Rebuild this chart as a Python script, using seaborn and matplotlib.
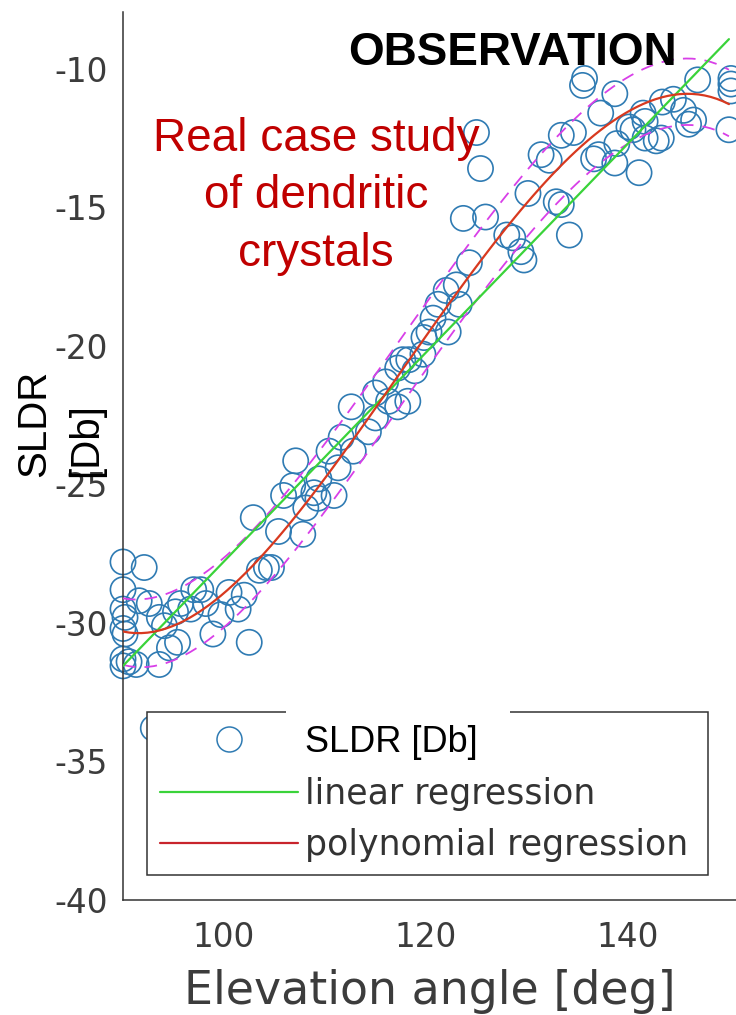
import matplotlib
matplotlib.use("Agg")
import matplotlib.pyplot as plt
import seaborn as sns
from matplotlib.lines import Line2D
from matplotlib.patches import Rectangle

# ---------------- data ----------------
elevation = [90.0, 92.1, 90.0, 90.0, 90.2, 90.0, 90.2, 90.0, 90.0, 90.6,
             91.6, 92.6, 93.6, 94.1, 94.6, 95.4, 91.3, 93.6, 95.2, 95.7,
             96.7, 97.0, 97.7, 98.2, 98.9, 99.7, 100.5, 101.4, 102.0, 102.5,
             103.5, 104.2, 104.7, 102.9, 105.4, 105.9, 106.8, 107.1, 107.8, 108.1,
             109.3, 108.9, 109.4, 110.9, 111.3, 110.4, 111.6, 112.8, 112.6, 114.3,
             115.0, 115.0, 116.0, 117.2, 118.2, 116.3, 117.2, 118.3, 119.7, 119.8,
             118.9, 117.7, 120.3, 122.2, 120.7, 121.2, 123.3, 122.0, 123.0, 124.3,
             123.7, 125.9, 128.0, 128.6, 129.4, 129.7, 125.4, 125.0, 131.4, 132.2,
             130.1, 132.9, 133.4, 134.2, 133.4, 134.6, 136.6, 135.5, 135.7, 138.7,
             137.3, 137.1, 138.9, 138.7, 141.1, 140.1, 140.5, 141.7, 142.8, 141.5,
             141.7, 143.4, 144.5, 145.5, 146.5, 146.0, 143.3, 146.9, 150.2, 150.2,
             150.2, 150.0, 93.0]
sldr = [-27.8, -28.0, -28.8, -29.5, -29.8, -30.2, -30.4, -31.3, -31.55, -31.4,
        -29.2, -29.3, -29.8, -30.1, -30.9, -30.7, -31.5, -31.5, -29.6, -29.3,
        -29.5, -28.8, -28.8, -29.3, -30.4, -29.7, -28.9, -29.5, -29.0, -30.7,
        -28.1, -28.0, -28.0, -26.2, -26.7, -25.4, -25.05, -24.15, -26.8, -25.85,
        -25.5, -25.3, -24.8, -25.4, -24.4, -23.8, -23.3, -23.8, -22.2, -23.1,
        -22.6, -21.7, -21.3, -22.2, -22.0, -22.0, -20.8, -20.5, -20.3, -19.7,
        -20.9, -20.5, -19.5, -19.5, -19.0, -18.5, -18.5, -18.0, -17.8, -17.0,
        -15.4, -15.35, -16.0, -16.1, -16.6, -16.9, -13.6, -12.3, -13.1, -13.3,
        -14.5, -14.8, -14.9, -16.0, -12.4, -12.3, -13.25, -10.6, -10.35, -10.9,
        -11.6, -13.1, -12.7, -13.4, -13.75, -12.1, -12.2, -12.5, -12.6, -11.6,
        -11.9, -11.2, -11.1, -11.5, -11.85, -12.0, -12.5, -10.4, -10.55, -10.35,
        -10.8, -12.2, -33.8]

fit_x = [90, 95, 100, 105, 110, 115, 120, 125, 130, 135, 140, 145, 150]
poly_fit = [-30.35, -29.95, -29.05, -27.2, -24.6, -22.15, -19.75, -17.2,
            -14.85, -12.85, -11.5, -11.0, -11.25]
upper_bound = [-29.15, -28.7, -27.8, -25.9, -23.35, -20.9, -18.6, -16.1,
               -13.6, -11.65, -10.25, -9.75, -10.0]
lower_bound = [-31.55, -31.2, -30.3, -28.4, -25.8, -23.3, -21.0, -18.5,
               -16.0, -14.05, -12.65, -12.15, -12.4]
linear_x = [90, 150]
linear_fit = [-31.55, -8.93]

x_ticks = [100, 120, 140]
y_ticks = [-40, -35, -30, -25, -20, -15, -10]

legend_labels = ["SLDR [Db]", "linear regression", "polynomial regression"]

# ---------------- style ----------------
sns.set_style("white")
plt.rcParams["font.family"] = ["DejaVu Sans"]
plt.rcParams["axes.unicode_minus"] = False

BLUE = "#2f7bb3"
GREEN = "#3ad33a"
RED = "#d8391f"
MAGENTA = "#d83fe8"
GREY = "#3c3c3c"

fig = plt.figure(figsize=(7.36, 10.15), dpi=100)
ax = fig.add_axes([123 / 736, 1 - 900 / 1015, 1 - 123 / 736, (900 - 12) / 1015])

sns.scatterplot(x=elevation, y=sldr, ax=ax, s=330, marker="o",
                facecolors="none", edgecolor=BLUE, linewidth=1.2,
                clip_on=False, zorder=2, legend=False)

for yb in (upper_bound, lower_bound):
    sns.regplot(x=fit_x, y=yb, order=5, ci=None, scatter=False, ax=ax,
                line_kws=dict(color=MAGENTA, lw=1.3, ls=(0, (7, 5)), zorder=3))
sns.lineplot(x=linear_x, y=linear_fit, ax=ax, color=GREEN, lw=1.6, zorder=4)
sns.regplot(x=fit_x, y=poly_fit, order=5, ci=None, scatter=False, ax=ax,
            line_kws=dict(color=RED, lw=1.6, zorder=5))

ax.set_xlim(90, 150.7)
ax.set_ylim(-40, -7.95)
ax.set_xticks(x_ticks)
ax.set_yticks(y_ticks)
ax.set_xlabel("Elevation angle [deg]", fontsize=33, color=GREY, labelpad=11)
ax.set_ylabel("")
for s in ("top", "right"):
    ax.spines[s].set_visible(False)
for s in ("left", "bottom"):
    ax.spines[s].set_color("#333333")
    ax.spines[s].set_linewidth(1.1)
ax.tick_params(axis="both", direction="in", length=6.5, width=1.0,
               color="#333333", labelsize=23.5, labelcolor=GREY)
ax.tick_params(axis="y", pad=11)
ax.tick_params(axis="x", pad=15)

# legend
handles = [
    Line2D([], [], ls="none", marker="o", markersize=18, markerfacecolor="none",
           markeredgecolor=BLUE, markeredgewidth=1.1),
    Line2D([], [], color=GREEN, lw=1.6),
    Line2D([], [], color="#c8242c", lw=1.6),
]
x0 = (147 - 123) / 613
y1 = (900 - 712) / 888
leg = ax.legend(handles, legend_labels, loc="upper left",
                bbox_to_anchor=(x0, 0.0327, (708 - 147) / 613, y1 - 0.0327),
                mode="expand", fontsize=25, handlelength=4.0, handletextpad=0.2,
                borderpad=0.36, labelspacing=0.5, frameon=True, fancybox=False,
                framealpha=1, facecolor="white", edgecolor="#333333",
                borderaxespad=0)
leg.get_frame().set_linewidth(1.1)
leg.set_zorder(10)
texts = leg.get_texts()
texts[0].set_fontfamily("Liberation Sans")
texts[0].set_fontsize(26)
texts[0].set_color("black")
for t in texts[1:]:
    t.set_color("#333333")

# white patch interrupting the legend top border (as in the reference)
fig.patches.append(Rectangle((286 / 736, 1 - 722 / 1015), (510 - 286) / 736,
                             16 / 1015, transform=fig.transFigure,
                             facecolor="white", edgecolor="none", zorder=20))

# annotations
fig.text(60 / 736, 1 - 423 / 1015, "SLDR\n[Db]", rotation=90, ha="center",
         va="center", multialignment="left", fontsize=29,
         family="Liberation Sans", color="black", linespacing=1.45)
fig.text(512 / 736, 1 - 65 / 1015, "OBSERVATION", ha="center", va="baseline",
         fontsize=33, weight="bold", family="Liberation Sans", color="black",
         zorder=30)
fig.text(316 / 736, 1 - 266 / 1015, "Real case study\nof dendritic\ncrystals",
         ha="center", va="baseline", multialignment="center", fontsize=33,
         family="Liberation Sans", color="#c00000", linespacing=1.4, zorder=30)

fig.savefig("out.png", dpi=100)
